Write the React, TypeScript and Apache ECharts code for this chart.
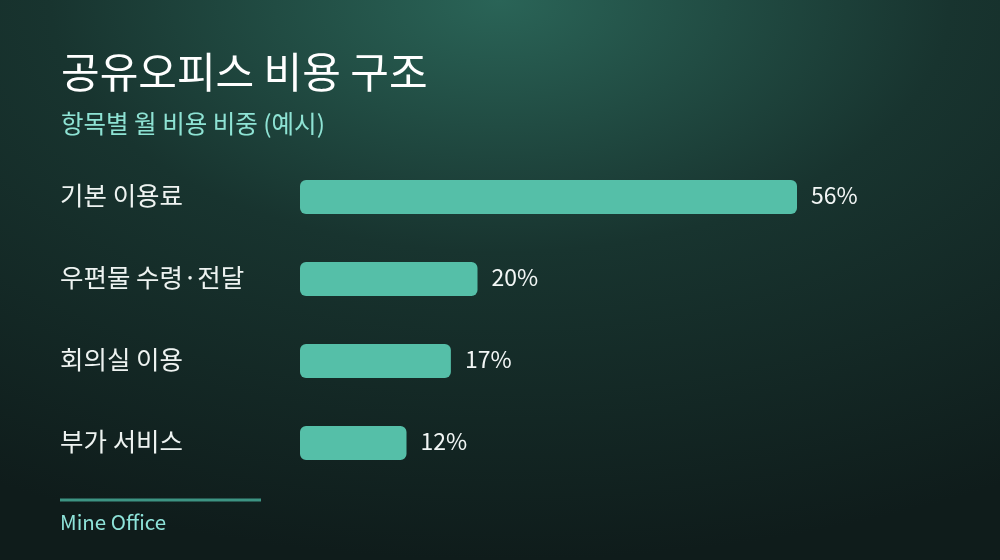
import React, { useEffect, useRef } from "react";
import * as echarts from "echarts";

const categories = ["기본 이용료", "우편물 수령·전달", "회의실 이용", "부가 서비스"];
const shares = [56, 20, 17, 12];

const FONT = '"Noto Sans CJK KR", "Noto Sans", sans-serif';

const App: React.FC = () => {
  const chartRef = useRef<HTMLDivElement>(null);

  useEffect(() => {
    const chart = echarts.init(chartRef.current!, undefined, { renderer: "svg" });

    const option = {
      animation: false,
      backgroundColor: new echarts.graphic.RadialGradient(0.5, 0, 1.0, [
        { offset: 0, color: "#2a6457" },
        { offset: 0.45, color: "#18342f" },
        { offset: 1, color: "#0f1c1b" },
      ]),
      title: {
        text: "공유오피스 비용 구조",
        subtext: "항목별 월 비용 비중 (예시)",
        left: 56,
        top: 43,
        itemGap: 20,
        textStyle: { color: "#ffffff", fontSize: 42, fontWeight: 400, fontFamily: FONT },
        subtextStyle: { color: "#8ee3d4", fontSize: 24.5, fontFamily: FONT },
      },
      grid: { left: 300, right: 167.5, top: 156, bottom: 76 },
      xAxis: {
        type: "value",
        min: 0,
        max: 60,
        show: false,
      },
      yAxis: {
        type: "category",
        data: categories,
        inverse: true,
        axisLine: { show: false },
        axisTick: { show: false },
        axisLabel: {
          align: "left",
          verticalAlign: "bottom",
          lineHeight: 8,
          margin: 240,
          color: "#eef3f1",
          fontSize: 25.5,
          fontFamily: FONT,
        },
      },
      series: [
        {
          type: "bar",
          data: shares,
          barWidth: 34,
          itemStyle: { color: "#55bfa8", borderRadius: 6 },
          label: {
            show: true,
            position: "right",
            distance: 14,
            offset: [0, -3],
            formatter: "{c}%",
            color: "#f2f6f5",
            fontSize: 23,
            fontFamily: FONT,
          },
        },
      ],
      graphic: [
        {
          type: "line",
          shape: { x1: 60, y1: 500, x2: 261, y2: 500 },
          style: { stroke: "#3d9483", lineWidth: 3 },
        },
        {
          type: "text",
          left: 60,
          top: 511,
          style: { text: "Mine Office", fill: "#8ee3d9", fontSize: 20.5, fontFamily: FONT },
        },
      ],
    };

    chart.setOption(option as any);
    return () => {
      chart.dispose();
    };
  }, []);

  return (
    <div
      ref={chartRef}
      style={{ position: "fixed", left: 0, top: 0, width: "1000px", height: "560px" }}
    ></div>
  );
};

export default App;
